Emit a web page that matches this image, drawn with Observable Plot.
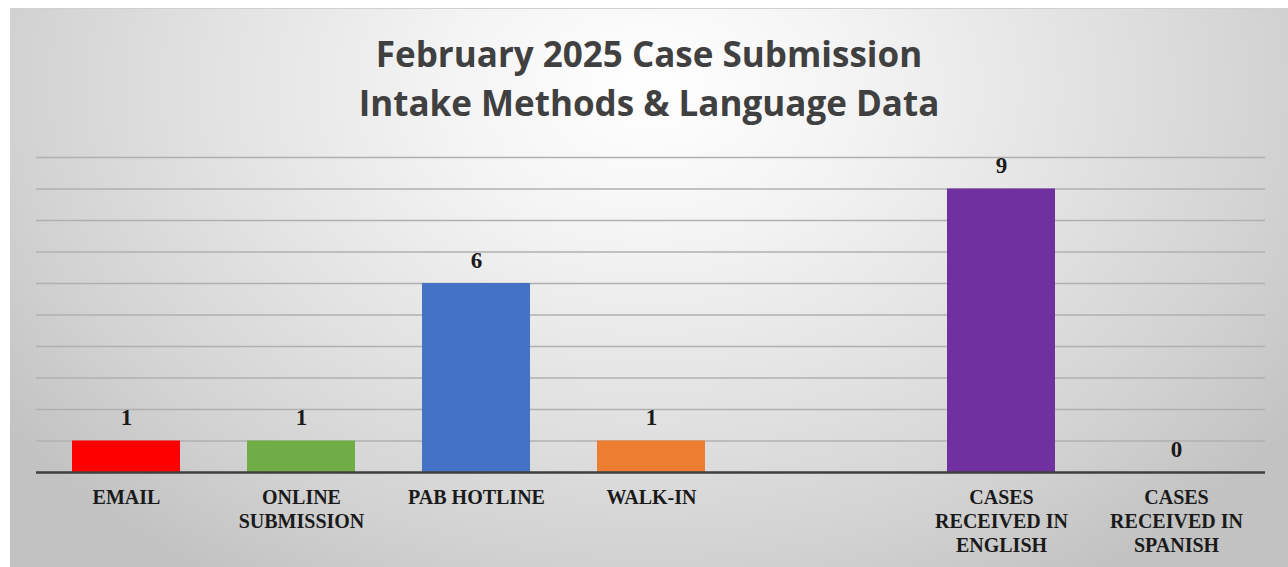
<!DOCTYPE html>
<html>
<head>
<meta charset="utf-8">
<script src="https://cdn.jsdelivr.net/npm/d3@7"></script>
<script src="https://cdn.jsdelivr.net/npm/@observablehq/plot@0.6"></script>
<style>
  html, body { margin: 0; padding: 0; background: #ffffff; }
  #panel {
    position: absolute; left: 10px; top: 8px; width: 1278px; height: 559px;
    border-top: 1px solid #d0d0d0;
    background: radial-gradient(ellipse 62% 105% at 50% 14%, #ffffff 0%, #f4f4f4 25%, #e2e2e2 55%, #d2d2d2 80%, #c2c2c2 100%);
    overflow: hidden;
  }
  #title {
    padding-top: 20px;
    text-align: center;
    font-family: "Open Sans", sans-serif;
    font-weight: 700;
    font-size: 35px;
    line-height: 49px;
    color: #404040;
    height: 97px;
  }
  #chart svg { display: block; }
</style>
</head>
<body>
<div id="panel">
  <div id="title">February 2025 Case Submission<br>Intake Methods &amp; Language Data</div>
  <div id="chart"></div>
</div>
<script>
const categories = ["EMAIL", "ONLINE SUBMISSION", "PAB HOTLINE", "WALK-IN", "CASES RECEIVED IN ENGLISH", "CASES RECEIVED IN SPANISH"];
const counts = [1, 1, 6, 1, 9, 0];
const barColors = ["#FF0000", "#70AD47", "#4472C4", "#ED7D31", "#7030A0", "#A5A5A5"];
const tickLabels = ["EMAIL", "ONLINE\nSUBMISSION", "PAB HOTLINE", "WALK-IN", "CASES\nRECEIVED IN\nENGLISH", "CASES\nRECEIVED IN\nSPANISH"];
const gapSlot = "(gap)";
const yTicks = [0, 1, 2, 3, 4, 5, 6, 7, 8, 9, 10];

const xDomain = [...categories.slice(0, 4), gapSlot, ...categories.slice(4)];
const data = categories.map((c, i) => ({cat: c, value: counts[i], color: barColors[i]}));
const labelOf = new Map(categories.map((c, i) => [c, tickLabels[i]]));

const chart = Plot.plot({
  width: 1278,
  height: 441,
  marginTop: 31,
  marginBottom: 95,
  marginLeft: 26,
  marginRight: 23,
  style: {background: "transparent", overflow: "visible"},
  x: {domain: xDomain, paddingInner: 0.385, paddingOuter: 0.1925, axis: null, label: null},
  y: {domain: [0, 10], axis: null},
  color: {type: "identity"},
  marks: [
    Plot.gridY(yTicks, {stroke: "#b0b0b0", strokeOpacity: 1, strokeWidth: 1.3}),
    Plot.barY(data, {x: "cat", y: "value", fill: "color"}),
    Plot.ruleY([0], {stroke: "#404040", strokeWidth: 2.5}),
    Plot.text(data, {
      x: "cat", y: "value", text: d => String(d.value),
      dy: -16, lineAnchor: "bottom",
      fontFamily: "Liberation Serif, 'Times New Roman', serif",
      fontSize: 23, fontWeight: "bold", fill: "#1a1a1a"
    }),
    Plot.axisX({
      tickSize: 0, tickPadding: 14, label: null,
      tickFormat: d => labelOf.get(d) ?? "",
      fontFamily: "Liberation Serif, 'Times New Roman', serif",
      fontSize: 20, fontWeight: "bold", lineHeight: 1.2, fill: "#1a1a1a"
    })
  ]
});
document.getElementById("chart").appendChild(chart);
</script>
</body>
</html>
